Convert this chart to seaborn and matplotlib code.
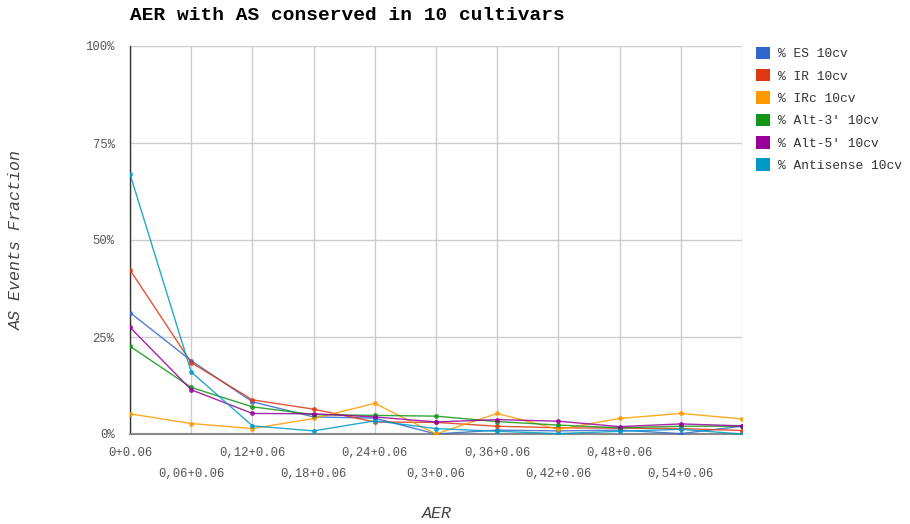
import matplotlib
matplotlib.use("Agg")
import matplotlib.pyplot as plt
from matplotlib.patches import Patch
import seaborn as sns
import pandas as pd

# AER bins (bin start + bin width)
categories = ["0+0.06", "0,06+0.06", "0,12+0.06", "0,18+0.06", "0,24+0.06",
              "0,3+0.06", "0,36+0.06", "0,42+0.06", "0,48+0.06", "0,54+0.06",
              "0,6+0.06"]

# Fraction of AS events (%) per bin
es_10cv = [31.3, 18.9, 8.3, 4.4, 4.1, 0.0, 1.0, 0.8, 1.0, 0.1, 2.0]
ir_10cv = [42.3, 18.4, 8.8, 6.4, 3.1, 3.0, 2.0, 1.6, 1.5, 1.4, 0.9]
irc_10cv = [5.2, 2.7, 1.4, 4.0, 7.9, 0.0, 5.3, 1.2, 4.0, 5.3, 3.9]
alt3_10cv = [22.6, 12.0, 7.0, 5.0, 4.8, 4.6, 3.2, 2.3, 1.6, 2.0, 2.0]
alt5_10cv = [27.5, 11.4, 5.3, 5.2, 4.4, 3.1, 3.7, 3.3, 1.9, 2.6, 2.1]
antisense_10cv = [67.0, 16.0, 2.1, 0.8, 3.4, 1.4, 0.7, 0.1, 0.7, 1.2, 0.0]

series_names = ["% ES 10cv", "% IR 10cv", "% IRc 10cv",
                "% Alt-3' 10cv", "% Alt-5' 10cv", "% Antisense 10cv"]
series_values = [es_10cv, ir_10cv, irc_10cv, alt3_10cv, alt5_10cv, antisense_10cv]
colors = ["#3366cc", "#dc3912", "#ff9900", "#109618", "#990099", "#0099c6"]

y_ticks = [0, 25, 50, 75, 100]

rows = []
for name, vals in zip(series_names, series_values):
    for i, v in enumerate(vals):
        rows.append({"pos": i, "bin": categories[i], "series": name, "value": v})
df = pd.DataFrame(rows)

sns.set_theme(style="white")
mono = ["Liberation Mono", "DejaVu Sans Mono"]
plt.rcParams["font.family"] = mono

fig = plt.figure(figsize=(9.1, 5.24), dpi=100)
ax = fig.add_axes([130 / 910, 90 / 524, 612 / 910, 388 / 524])

# grid
for i in range(len(categories)):
    ax.axvline(i, color="#cccccc", lw=1, zorder=0)
for t in y_ticks[1:]:
    ax.axhline(t, color="#cccccc", lw=1, zorder=0)

palette = dict(zip(series_names, colors))
sns.lineplot(data=df, x="pos", y="value", hue="series", palette=palette,
             hue_order=series_names, marker="o", markersize=3.5,
             markeredgewidth=0, linewidth=1, alpha=0.85, legend=False,
             ax=ax, zorder=3)

ax.set_xlim(0, len(categories) - 1)
ax.set_ylim(0, 100)
ax.set_xlabel("")
ax.set_ylabel("")

for s in ["top", "right"]:
    ax.spines[s].set_visible(False)
ax.spines["left"].set_color("#333333")
ax.spines["left"].set_linewidth(1)
ax.spines["bottom"].set_color("#888888")
ax.spines["bottom"].set_linewidth(1.5)

# staggered bin labels; the last bin label does not fit and is omitted
tick_labels = []
for i, c in enumerate(categories):
    if i == len(categories) - 1:
        tick_labels.append("")
    elif i % 2 == 1:
        tick_labels.append("\n" + c)
    else:
        tick_labels.append(c)
ax.set_xticks(range(len(categories)))
ax.set_xticklabels(tick_labels, fontsize=8.8, color="#555555",
                   linespacing=2.1)
ax.set_yticks(y_ticks)
ax.set_yticklabels([f"{t}%" for t in y_ticks], fontsize=8.8, color="#555555")
ax.tick_params(axis="x", length=0, pad=9)
ax.tick_params(axis="y", length=0, pad=11)

fig.text(437 / 910, 1 - 514 / 524, "AER", fontsize=12, style="italic",
         color="#444444", ha="center", va="center")
fig.text(16 / 910, 1 - 240 / 524, "AS Events Fraction", fontsize=12,
         style="italic", color="#444444", ha="center", va="center",
         rotation=90)

fig.text(130 / 910, 1 - 15 / 524, "AER with AS conserved in 10 cultivars",
         fontsize=14, fontweight="bold", color="#000000",
         ha="left", va="center")

handles = [Patch(facecolor=c, edgecolor="none") for c in colors]
fig.legend(handles, series_names, loc="upper left",
           bbox_to_anchor=(744 / 910, 1 - 35 / 524), frameon=False,
           fontsize=9.3, handlelength=1.1, handleheight=1.1,
           handletextpad=0.6, labelspacing=0.68, labelcolor="#333333")

fig.savefig("out.png", dpi=100, facecolor="white")
